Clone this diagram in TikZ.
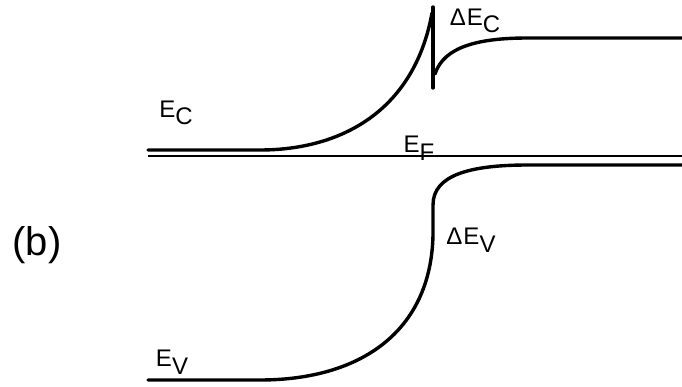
\documentclass[tikz,border=0pt]{standalone}
\usepackage{fontspec}
\setmainfont{Liberation Sans}
\newcommand{\lvl}[2]{#1\raisebox{-0.32em}{#2}}
\newcommand{\dlt}{{\fontsize{24}{28}\selectfont\symbol{"0394}}\kern1pt}
\begin{document}
\begin{tikzpicture}[x=1pt,y=-1pt,
  band/.style={line width=3.4pt,line cap=round,line join=round},
  fermi/.style={line width=2pt},
  lbl/.style={inner sep=0pt,font=\fontsize{24}{28}\selectfont}]
\useasboundingbox (0,0) rectangle (682,387);
% named coordinates
\coordinate (cL) at (148,150);
\coordinate (cA) at (260,150);
\coordinate (cT) at (432,13);
\coordinate (sT) at (433,7);
\coordinate (sB) at (433,88);
\coordinate (rA) at (435,74);
\coordinate (rB) at (528,38);
\coordinate (rR) at (682,38);
\coordinate (fL) at (148,156);
\coordinate (fR) at (682,156);
\coordinate (vL) at (148,380);
\coordinate (vA) at (260,380);
\coordinate (vM) at (433,235);
\coordinate (vK) at (433,205);
\coordinate (vB) at (528,165);
\coordinate (vR) at (682,165);
% conduction band
\draw[band] (cL) -- (cA) .. controls (340,150) and (414,112) .. (cT);
\draw[band] (sT) -- (sB);
\draw[band] (rA) .. controls (444,46) and (480,38) .. (rB) -- (rR);
% Fermi level
\draw[fermi] (fL) -- (fR);
% valence band
\draw[band] (vL) -- (vA) .. controls (360,380) and (431,332) .. (vM) -- (vK)
  .. controls (433,175) and (470,165) .. (vB) -- (vR);
% labels
\node[lbl] (ec) at (176,113) {\lvl{E}{C}};
\node[lbl] (ef) at (419,148) {\lvl{E}{F}};
\node[lbl] (dec) at (475,21) {\dlt\lvl{E}{C}};
\node[lbl] (dev) at (471,240) {\dlt\lvl{E}{V}};
\node[lbl] (ev) at (172,362) {\lvl{E}{V}};
\node[inner sep=0pt,font=\fontsize{40}{44}\selectfont] (b) at (37,245) {(b)};
\end{tikzpicture}
\end{document}
